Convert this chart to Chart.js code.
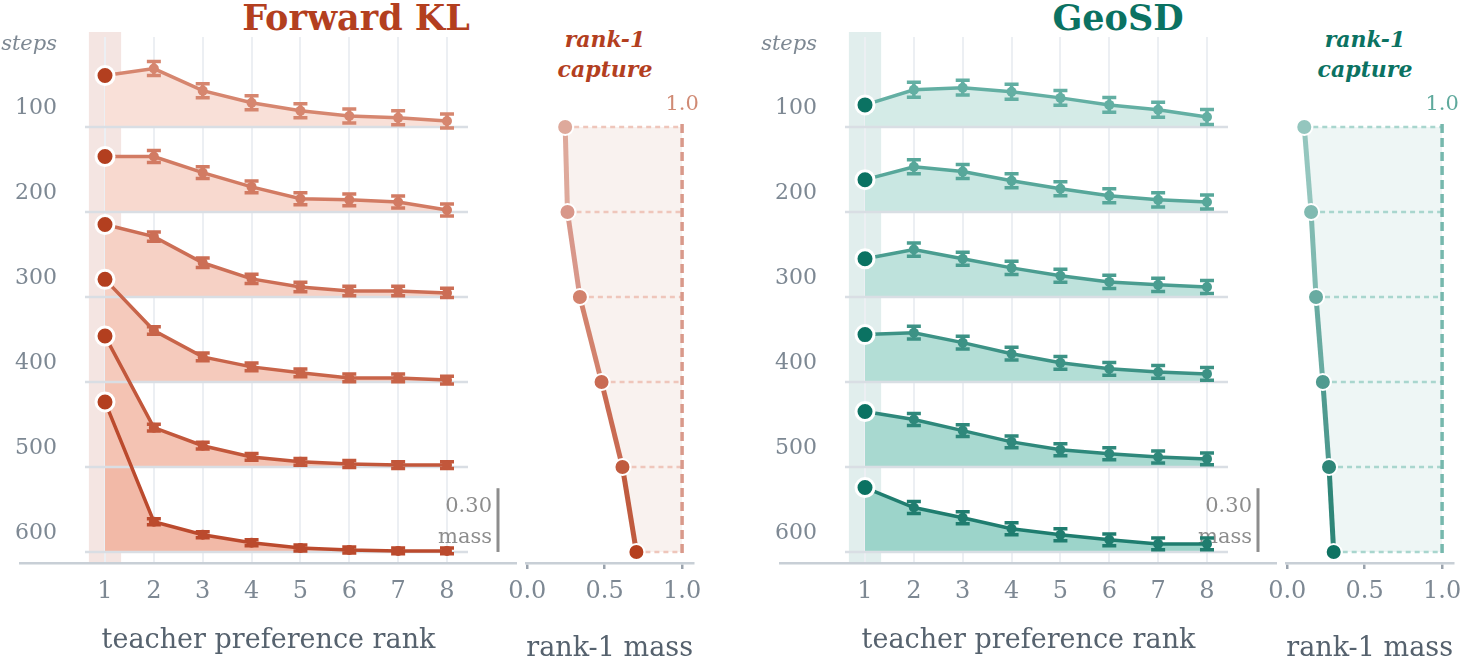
<!DOCTYPE html>
<html>
<head>
<meta charset="utf-8">
<title>rank-1 capture: Forward KL vs GeoSD</title>
<script src="https://cdn.jsdelivr.net/npm/chart.js@4.4.1/dist/chart.umd.min.js"></script>
<style>
  html, body { margin: 0; padding: 0; background: #fff; }
  body { position: relative; width: 1462px; height: 659px; overflow: hidden; font-family: "DejaVu Serif", serif; }
  canvas { position: absolute; top: 0; }
  .title { position: absolute; top: 0; text-align: center; font-weight: bold; font-size: 35px; line-height: 35px; }
  .capture { position: absolute; top: 24px; width: 200px; text-align: center; font-weight: bold; font-style: italic; font-size: 22px; line-height: 30px; }
</style>
</head>
<body>
<div class="title" style="left:0;width:712px;color:#b33f1f">Forward KL</div>
<div class="title" style="left:760px;width:716px;color:#0b7262">GeoSD</div>
<div class="capture" style="left:505px;color:#b33f1f">rank-1<br>capture</div>
<div class="capture" style="left:1265px;color:#0b7262">rank-1<br>capture</div>
<canvas id="fkl-ridge" width="517" height="659" style="left:0"></canvas>
<canvas id="fkl-capture" width="212" height="670" style="left:500px"></canvas>
<canvas id="geo-ridge" width="517" height="659" style="left:760px"></canvas>
<canvas id="geo-capture" width="212" height="670" style="left:1260px"></canvas>

<script>
const ranks = [1, 2, 3, 4, 5, 6, 7, 8];
const steps = [100, 200, 300, 400, 500, 600];
const massTicks = [0, 0.5, 1.0];

// mass on teacher ranks 1..8, one row per training step (Forward KL)
const fklMass = [
    [0.242, 0.275, 0.171, 0.114, 0.076, 0.052, 0.043, 0.028],
    [0.261, 0.261, 0.185, 0.118, 0.062, 0.057, 0.047, 0.009],
    [0.341, 0.284, 0.161, 0.085, 0.047, 0.028, 0.028, 0.019],
    [0.483, 0.242, 0.118, 0.071, 0.043, 0.019, 0.019, 0.009],
    [0.616, 0.185, 0.100, 0.047, 0.024, 0.014, 0.009, 0.009],
    [0.706, 0.142, 0.081, 0.043, 0.019, 0.009, 0.005, 0.005]
];
const fklErr = [0.033, 0.028, 0.022, 0.018, 0.016, 0.014];
const fklCapture = [0.245, 0.26, 0.34, 0.48, 0.615, 0.705];

// same for GeoSD
const geoMass = [
    [0.104, 0.175, 0.185, 0.166, 0.137, 0.104, 0.081, 0.047],
    [0.152, 0.213, 0.190, 0.147, 0.109, 0.076, 0.057, 0.047],
    [0.180, 0.223, 0.180, 0.137, 0.100, 0.071, 0.057, 0.047],
    [0.223, 0.232, 0.185, 0.133, 0.090, 0.062, 0.047, 0.038],
    [0.261, 0.223, 0.171, 0.118, 0.081, 0.062, 0.047, 0.038],
    [0.303, 0.209, 0.161, 0.109, 0.081, 0.057, 0.038, 0.038]
];
const geoErr = [0.035, 0.033, 0.031, 0.03, 0.028, 0.028];
const geoCapture = [0.11, 0.154, 0.186, 0.23, 0.27, 0.30];

const FONT = '"DejaVu Serif", serif';
const TICK = '#7d8893';
const TITLE = '#56626e';
const GRID = '#eceff3';
const BASE = '#d9dee4';
const AXIS = '#c8cfd6';
const GAP = 0.4;          // vertical offset between ridge rows (mass units)
const LABEL_LIFT = 0.09;  // step label sits a bit above its baseline
const SCALE_BAR = 0.30;

const fklPal = {
    lines: ['#d6866f', '#d27b63', '#cc6e55', '#c86449', '#c2573b', '#bb4a2d'],
    fills: ['#f9e0d8', '#f8d9cf', '#f6d1c5', '#f5cabc', '#f4c3b3', '#f2b9a7'],
    dot: '#b33f1f',
    band: '#f4e5e2',
    dots: ['#dea99b', '#d8978a', '#d2826d', '#c96b53', '#c05b3f', '#b5401f'],
    capFill: '#f9f2ef',
    dash: '#efc6bb',
    edge: '#d9998a',
    edgeText: '#d08a74'
};
const geoPal = {
    lines: ['#63afa3', '#57a79a', '#4a9d90', '#3c9285', '#2e887b', '#1f7d6f'],
    fills: ['#d4ebe7', '#c9e7e2', '#bee2dc', '#b3ded6', '#a8d9d0', '#9cd4ca'],
    dot: '#0b7262',
    band: '#e1eeed',
    dots: ['#94c6be', '#80bab1', '#68aba1', '#4f9a8f', '#2f8678', '#0e7262'],
    capFill: '#eef6f5',
    dash: '#a9d6ce',
    edge: '#76b8ad',
    edgeText: '#5ea99c'
};

function base(i) {
    return (steps.length - 1 - i) * GAP;
}

function ridge(id, mass, err, pal) {
    const decor = {
        id: 'decor',
        beforeDraw(chart) {
            const {ctx, chartArea: a, scales: {x}} = chart;
            const l = x.getPixelForValue(0.67), r = x.getPixelForValue(1.33);
            ctx.save();
            ctx.fillStyle = pal.band;
            ctx.fillRect(l, a.top - 5, r - l, a.bottom - a.top + 5);
            ctx.restore();
        },
        beforeDatasetsDraw(chart) {
            const {ctx, chartArea: a, scales: {x, y}} = chart;
            ctx.save();
            // row baselines
            ctx.strokeStyle = BASE;
            ctx.lineWidth = 2.5;
            steps.forEach((s, i) => {
                const py = y.getPixelForValue(base(i));
                ctx.beginPath();
                ctx.moveTo(x.getPixelForValue(0.59), py);
                ctx.lineTo(x.getPixelForValue(8.43), py);
                ctx.stroke();
            });
            // mass scale bar
            const bx = a.right - 19;
            ctx.strokeStyle = '#8d8d8d';
            ctx.lineWidth = 3;
            ctx.beginPath();
            ctx.moveTo(bx, y.getPixelForValue(base(steps.length - 1)));
            ctx.lineTo(bx, y.getPixelForValue(base(steps.length - 1) + SCALE_BAR));
            ctx.stroke();
            ctx.fillStyle = '#8d8d8d';
            ctx.font = '21px ' + FONT;
            ctx.textAlign = 'right';
            ctx.textBaseline = 'alphabetic';
            ctx.fillText(SCALE_BAR.toFixed(2), bx - 6, 512);
            ctx.fillText('mass', bx - 6, 543);
            // error bars
            ctx.lineWidth = 3.5;
            mass.forEach((row, i) => {
                ctx.strokeStyle = pal.lines[i];
                row.forEach((v, j) => {
                    if (j === 0) return;
                    const px = x.getPixelForValue(ranks[j]);
                    const hi = y.getPixelForValue(base(i) + v + err[i]);
                    const lo = y.getPixelForValue(base(i) + v - err[i]);
                    ctx.beginPath();
                    ctx.moveTo(px, hi); ctx.lineTo(px, lo);
                    ctx.moveTo(px - 7, hi); ctx.lineTo(px + 7, hi);
                    ctx.moveTo(px - 7, lo); ctx.lineTo(px + 7, lo);
                    ctx.stroke();
                });
            });
            ctx.restore();
        },
        afterDraw(chart) {
            const ctx = chart.ctx;
            ctx.save();
            ctx.fillStyle = TICK;
            ctx.font = 'italic 21px ' + FONT;
            ctx.textAlign = 'right';
            ctx.textBaseline = 'alphabetic';
            ctx.fillText('steps', 57, 50);
            ctx.restore();
        }
    };

    const datasets = mass.map((row, i) => ({
        data: ranks.map((r, j) => ({x: r, y: base(i) + row[j]})),
        borderColor: pal.lines[i],
        backgroundColor: pal.fills[i],
        borderWidth: 3.5,
        fill: {value: base(i)},
        pointRadius: c => c.dataIndex === 0 ? 9 : 5,
        pointBackgroundColor: c => c.dataIndex === 0 ? pal.dot : pal.lines[i],
        pointBorderColor: c => c.dataIndex === 0 ? '#fff' : pal.lines[i],
        pointBorderWidth: c => c.dataIndex === 0 ? 3 : 0
    }));

    return new Chart(document.getElementById(id), {
        type: 'line',
        data: {datasets: datasets},
        plugins: [decor],
        options: {
            responsive: false,
            animation: false,
            layout: {padding: {top: 37, left: 15}, autoPadding: false},
            plugins: {
                legend: {display: false},
                tooltip: {enabled: false},
                filler: {drawTime: 'beforeDatasetsDraw'}
            },
            scales: {
                x: {
                    type: 'linear',
                    min: -0.74,
                    max: 9.433,
                    afterBuildTicks: s => { s.ticks = ranks.map(v => ({value: v})); },
                    afterFit: s => { s.height = 96; },
                    ticks: {font: {family: FONT, size: 24}, color: TICK, padding: 14, autoSkip: false, maxRotation: 0, callback: v => v},
                    grid: {color: GRID, lineWidth: 2, drawTicks: false},
                    border: {display: true, color: AXIS, width: 2.5},
                    title: {display: true, text: 'teacher preference rank', font: {family: FONT, size: 27}, color: TITLE, padding: {top: 0, bottom: 2}}
                },
                y: {
                    type: 'linear',
                    min: -0.052,
                    max: 2.4235,
                    afterBuildTicks: s => { s.ticks = steps.map((st, i) => ({value: base(i) + LABEL_LIFT})); },
                    afterFit: s => { s.width = 5; },
                    ticks: {font: {family: FONT, size: 22}, color: TICK, mirror: true, crossAlign: 'far', padding: -5, autoSkip: false, callback: (v, idx) => steps[idx]},
                    grid: {display: false},
                    border: {display: false}
                }
            }
        }
    });
}

function capture(id, cap, pal) {
    const guides = {
        id: 'guides',
        beforeDatasetsDraw(chart) {
            const {ctx, scales: {x, y}} = chart;
            const x1 = x.getPixelForValue(1);
            const top = y.getPixelForValue(steps[0]);
            const bottom = y.getPixelForValue(steps[steps.length - 1]);
            ctx.save();
            ctx.strokeStyle = pal.dash;
            ctx.lineWidth = 2.5;
            ctx.setLineDash([5, 4]);
            cap.forEach((v, i) => {
                const py = y.getPixelForValue(steps[i]);
                ctx.beginPath();
                ctx.moveTo(x.getPixelForValue(v), py);
                ctx.lineTo(x1, py);
                ctx.stroke();
            });
            ctx.strokeStyle = pal.edge;
            ctx.lineWidth = 3.5;
            ctx.setLineDash([9, 5]);
            ctx.beginPath();
            ctx.moveTo(x1, top - 3);
            ctx.lineTo(x1, bottom + 5);
            ctx.stroke();
            ctx.setLineDash([]);
            ctx.fillStyle = pal.edgeText;
            ctx.font = '21px ' + FONT;
            ctx.textAlign = 'center';
            ctx.textBaseline = 'alphabetic';
            ctx.fillText('1.0', x1, top - 17);
            ctx.restore();
        }
    };

    return new Chart(document.getElementById(id), {
        type: 'line',
        data: {
            datasets: [{
                data: steps.map((s, i) => ({x: cap[i], y: s})),
                fill: {value: 1},
                backgroundColor: pal.capFill,
                borderColor: pal.dots[0],
                borderWidth: 5,
                segment: {borderColor: c => pal.dots[c.p0DataIndex]},
                pointRadius: 8,
                pointBackgroundColor: pal.dots,
                pointBorderColor: '#fff',
                pointBorderWidth: 2
            }]
        },
        plugins: [guides],
        options: {
            indexAxis: 'y',
            responsive: false,
            animation: false,
            layout: {padding: {top: 37, left: 25, right: 19}, autoPadding: false},
            plugins: {
                legend: {display: false},
                tooltip: {enabled: false},
                filler: {drawTime: 'beforeDatasetsDraw'}
            },
            scales: {
                x: {
                    type: 'linear',
                    min: -0.0064,
                    max: 1.0705,
                    afterBuildTicks: s => { s.ticks = massTicks.map(v => ({value: v})); },
                    afterFit: s => { s.height = 107; },
                    ticks: {font: {family: FONT, size: 24}, color: TICK, padding: 8, autoSkip: false, maxRotation: 0, callback: v => v.toFixed(1)},
                    grid: {drawOnChartArea: false, drawTicks: true, tickLength: 6, color: '#9aa3ad', lineWidth: 2.5},
                    border: {display: true, color: AXIS, width: 2.5},
                    title: {display: true, text: 'rank-1 mass', font: {family: FONT, size: 27.5}, color: TITLE, padding: {top: 0, bottom: 5}}
                },
                y: {
                    type: 'linear',
                    display: false,
                    reverse: true,
                    min: -5.88,
                    max: 612.94
                }
            }
        }
    });
}

ridge('fkl-ridge', fklMass, fklErr, fklPal);
capture('fkl-capture', fklCapture, fklPal);
ridge('geo-ridge', geoMass, geoErr, geoPal);
capture('geo-capture', geoCapture, geoPal);
</script>
</body>
</html>
